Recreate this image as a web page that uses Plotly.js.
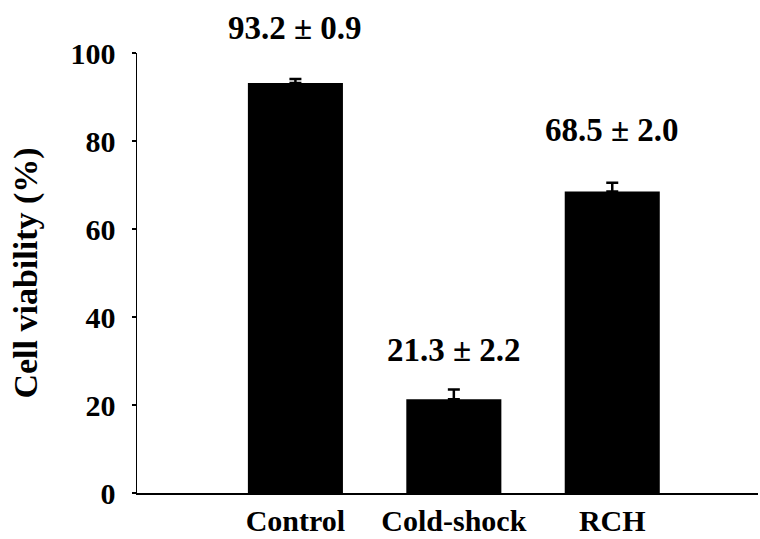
<!DOCTYPE html>
<html>
<head>
<meta charset="utf-8">
<script src="https://cdn.plot.ly/plotly-3.0.1.min.js"></script>
<style>html,body{margin:0;padding:0;background:#fff;}#chart{width:760px;height:539px;}</style>
</head>
<body>
<div id="chart"></div>
<script>
const categories = ["Control", "Cold-shock", "RCH"];
const viability = [93.2, 21.3, 68.5];
const errors = [0.9, 2.2, 2.0];
const yTicks = [0, 20, 40, 60, 80, 100];
const labelY = [105.6, 32.5, 82.4];

const FONT = '"Liberation Serif", "Times New Roman", serif';

const trace = {
  type: 'bar',
  x: categories,
  y: viability,
  marker: {color: '#000000', line: {width: 0}},
  width: 0.6,
  error_y: {type: 'data', array: errors, arrayminus: errors.map(() => 0), symmetric: false,
            visible: true, color: '#000000', thickness: 2.5, width: 6},
  hoverinfo: 'none'
};

const annotations = categories.map((c, i) => ({
  x: c, y: labelY[i] / 100, xref: 'x', yref: 'paper',
  text: '<b>' + viability[i].toFixed(1) + ' ± ' + errors[i].toFixed(1) + '</b>',
  showarrow: false,
  font: {family: FONT, size: 33, color: '#000'},
  xanchor: 'center', yanchor: 'middle'
}));

const layout = {
  width: 760, height: 539,
  margin: {l: 137, r: 2, t: 53, b: 46},
  paper_bgcolor: '#fff', plot_bgcolor: '#fff',
  showlegend: false,
  font: {family: FONT, color: '#000'},
  xaxis: {
    type: 'category',
    range: [-1.0, 2.92],
    showline: true, linecolor: '#000', linewidth: 1.5,
    ticks: '', showgrid: false, zeroline: false,
    tickfont: {family: FONT, size: 30, color: '#000', weight: 'bold'},
    ticklabelstandoff: 0
  },
  yaxis: {
    range: [0, 100],
    tickvals: yTicks,
    ticktext: yTicks.map(String),
    showline: true, linecolor: '#000', linewidth: 1.5,
    ticks: 'outside', ticklen: 4, tickwidth: 1.5, tickcolor: '#000',
    showgrid: false, zeroline: false,
    tickfont: {family: FONT, size: 30, color: '#000', weight: 'bold'},
    ticklabelstandoff: 10,
    title: {text: '<b>Cell viability (%)</b>', font: {family: FONT, size: 34, color: '#000'}, standoff: 22}
  },
  annotations: annotations
};

Plotly.newPlot('chart', [trace], layout, {displayModeBar: false, staticPlot: true});
</script>
</body>
</html>
